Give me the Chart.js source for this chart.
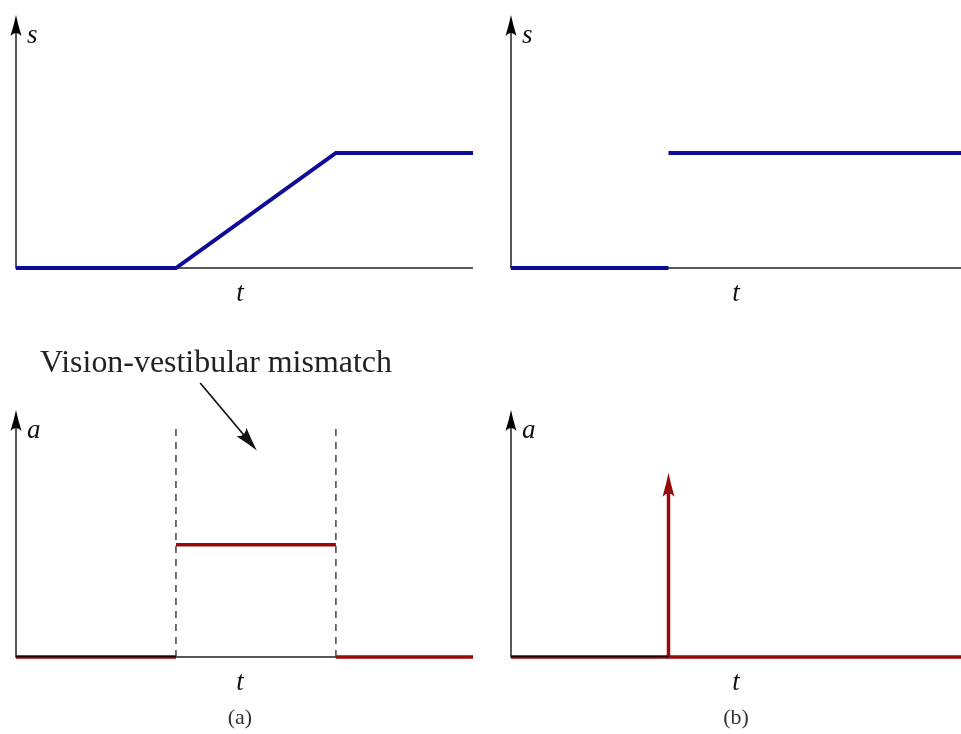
<!DOCTYPE html>
<html>
<head>
<meta charset="utf-8">
<script src="https://cdn.jsdelivr.net/npm/chart.js@4"></script>
<style>
body{margin:0;background:#fff;width:961px;height:734px;position:relative;overflow:hidden}
canvas{position:absolute}
</style>
</head>
<body>
<canvas id="topA" width="490" height="310" style="left:0;top:0"></canvas>
<canvas id="topB" width="471" height="310" style="left:490px;top:0"></canvas>
<canvas id="botA" width="490" height="414" style="left:0;top:320px"></canvas>
<canvas id="botB" width="471" height="414" style="left:490px;top:320px"></canvas>
<script>
// time axis runs 0..10, values 0..2.2 (top of the arrow)
const tMax = 10;
const yMax = 2.2;

// (a) gradual motion: ramp in position, constant acceleration while ramping
const rampT = [0, 3.5, 7, 10];
const rampS = [0, 0, 1, 1];
const accelT = [0, 3.5, 3.5, 7, 7, 10];
const accelA = [0, 0, 1, 1, 0, 0];
const mismatchT = [3.5, 7];
const dashTop = 2.04;

// (b) sudden jump: step in position, impulse in acceleration
const stepBeforeT = [0, 3.5];
const stepBeforeS = [0, 0];
const stepAfterT = [3.5, 10];
const stepAfterS = [1, 1];
const impulseT = [3.5, 3.5];
const impulseA = [0, 1.64];

const annotText = 'Vision-vestibular mismatch';
const annotFrom = [4.03, 2.44];
const annotTo = [5.27, 1.84];

const blue = 'rgb(12,12,150)';
const red = 'rgb(152,10,10)';
const serif = '"Liberation Serif", "DejaVu Serif", serif';

function pts(xs, ys){ return xs.map((x, i) => ({x: x, y: ys[i]})); }

function lineSet(xs, ys, color, w, dash){
  return {data: pts(xs, ys), borderColor: color, borderWidth: w, borderDash: dash || [],
    pointRadius: 0, tension: 0, fill: false, borderCapStyle: 'butt', borderJoinStyle: 'miter'};
}

function arrowHead(c, x, y, ang, len, half){
  c.save();
  c.translate(x, y);
  c.rotate(ang);
  c.beginPath();
  c.moveTo(0, 0);
  c.quadraticCurveTo(-len * 0.45, -half * 0.35, -len, -half);
  c.quadraticCurveTo(-len * 0.72, 0, -len, half);
  c.quadraticCurveTo(-len * 0.45, half * 0.35, 0, 0);
  c.closePath();
  c.fill();
  c.restore();
}

const sketch = {
  id: 'sketch',
  beforeDatasetsDraw(chart, args, o){
    const c = chart.ctx, xs = chart.scales.x, ys = chart.scales.y;
    const x0 = xs.getPixelForValue(0), y0 = ys.getPixelForValue(0);
    c.save();
    c.strokeStyle = '#222';
    c.lineWidth = 1.5;
    c.beginPath();
    c.moveTo(xs.getPixelForValue(tMax), y0);
    c.lineTo(x0, y0);
    c.lineTo(x0, ys.getPixelForValue(yMax) + 12);
    c.stroke();
    c.fillStyle = '#000';
    arrowHead(c, x0, ys.getPixelForValue(yMax), -Math.PI / 2, 21, 5.5);
    c.restore();
  },
  afterDatasetsDraw(chart, args, o){
    const c = chart.ctx, xs = chart.scales.x, ys = chart.scales.y;
    const x0 = xs.getPixelForValue(0), y0 = ys.getPixelForValue(0);
    c.save();
    if (o.overlayTo){
      c.strokeStyle = 'rgba(25,0,0,0.9)';
      c.lineWidth = 1.4;
      c.beginPath();
      c.moveTo(x0, y0 - 0.5);
      c.lineTo(xs.getPixelForValue(o.overlayTo), y0 - 0.5);
      c.stroke();
    }
    if (o.impulse){
      c.fillStyle = red;
      arrowHead(c, xs.getPixelForValue(impulseT[1]), ys.getPixelForValue(impulseA[1]), -Math.PI / 2, 24, 6);
    }
    c.fillStyle = '#111';
    c.textAlign = 'left';
    c.textBaseline = 'middle';
    c.font = 'italic 27px ' + serif;
    c.fillText(o.yLabel, x0 + 11, ys.getPixelForValue(yMax) + 21);
    c.textAlign = 'center';
    c.fillText('t', xs.getPixelForValue(o.tAt), y0 + 26);
    if (o.caption){
      c.fillStyle = '#333';
      c.font = '22px ' + serif;
      c.fillText(o.caption, xs.getPixelForValue(o.tAt), y0 + 61);
    }
    if (o.annot){
      const fx = xs.getPixelForValue(annotFrom[0]), fy = ys.getPixelForValue(annotFrom[1]);
      const tx = xs.getPixelForValue(annotTo[0]), ty = ys.getPixelForValue(annotTo[1]);
      const ang = Math.atan2(ty - fy, tx - fx);
      c.strokeStyle = '#111';
      c.fillStyle = '#111';
      c.lineWidth = 1.7;
      c.beginPath();
      c.moveTo(fx, fy);
      c.lineTo(tx - 14 * Math.cos(ang), ty - 14 * Math.sin(ang));
      c.stroke();
      arrowHead(c, tx, ty, ang, 24, 6.5);
      let size = 28;
      c.font = size + 'px ' + serif;
      size = size * 352 / c.measureText(annotText).width;
      c.font = size + 'px ' + serif;
      c.fillStyle = '#222';
      c.textAlign = 'center';
      c.textBaseline = 'alphabetic';
      c.fillText(annotText, 216, fy - 11);
    }
    c.restore();
  }
};

function makeChart(id, datasets, pad, opts){
  return new Chart(document.getElementById(id), {
    type: 'line',
    data: {datasets: datasets},
    options: {
      responsive: false,
      animation: false,
      devicePixelRatio: 1,
      layout: {padding: pad},
      clip: false,
      scales: {
        x: {type: 'linear', min: 0, max: tMax, display: false},
        y: {type: 'linear', min: 0, max: yMax, display: false}
      },
      plugins: {legend: {display: false}, tooltip: {enabled: false}, sketch: opts}
    },
    plugins: [sketch]
  });
}

makeChart('topA', [lineSet(rampT, rampS, blue, 4)],
  {left: 16, top: 15, right: 17, bottom: 42},
  {yLabel: 's', tAt: 4.9});

makeChart('topB', [lineSet(stepBeforeT, stepBeforeS, blue, 4), lineSet(stepAfterT, stepAfterS, blue, 4)],
  {left: 21, top: 15, right: 0, bottom: 42},
  {yLabel: 's', tAt: 5.0});

makeChart('botA', [
    lineSet([mismatchT[0], mismatchT[0]], [0, dashTop], '#444', 1.5, [7, 6]),
    lineSet([mismatchT[1], mismatchT[1]], [0, dashTop], '#444', 1.5, [7, 6]),
    lineSet(accelT.slice(0, 2), accelA.slice(0, 2), red, 3.5),
    lineSet(accelT.slice(2, 4), accelA.slice(2, 4), red, 3.5),
    lineSet(accelT.slice(4, 6), accelA.slice(4, 6), red, 3.5)
  ],
  {left: 16, top: 90, right: 17, bottom: 77},
  {yLabel: 'a', tAt: 4.9, caption: '(a)', overlayTo: 3.5, annot: true});

makeChart('botB', [
    lineSet([0, tMax], [0, 0], red, 3.5),
    lineSet(impulseT, [impulseA[0], impulseA[1] - 0.15], red, 3.5)
  ],
  {left: 21, top: 90, right: 0, bottom: 77},
  {yLabel: 'a', tAt: 5.0, caption: '(b)', overlayTo: 3.5, impulse: true});
</script>
</body>
</html>
